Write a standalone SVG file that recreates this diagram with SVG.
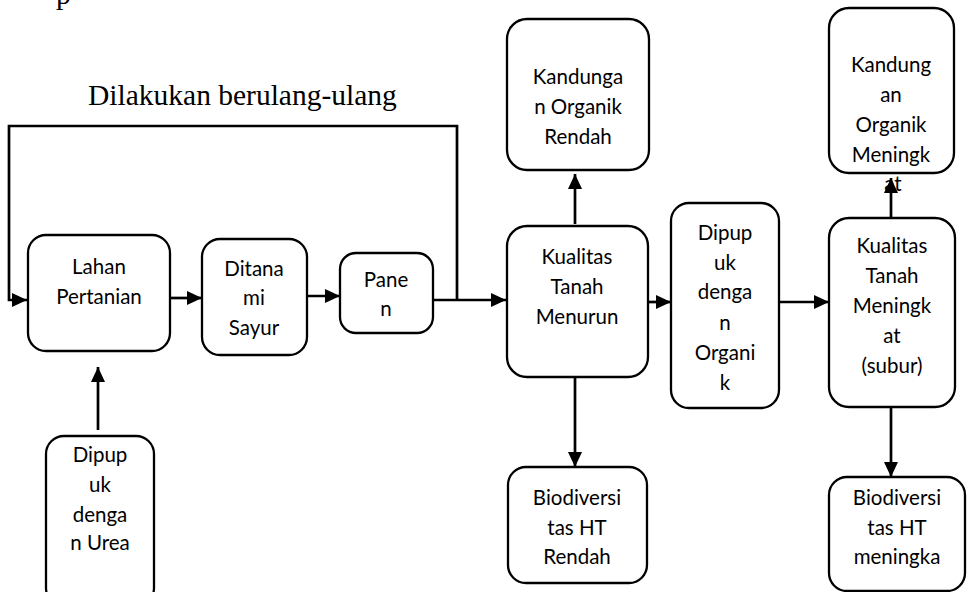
<svg xmlns="http://www.w3.org/2000/svg" width="967" height="592" viewBox="0 0 967 592">
<style>
.box{fill:#fff;stroke:#000;stroke-width:2.3}
.t{font-family:Lato,"Open Sans",sans-serif;font-size:20.5px;fill:#000;text-anchor:middle}
.s{font-family:"Liberation Serif","Times New Roman",serif;font-size:29.5px;fill:#000}
.c{fill:none;stroke:#000;stroke-width:2.7}
</style>
<defs>
<marker id="ah" markerUnits="userSpaceOnUse" markerWidth="16" markerHeight="14" refX="15" refY="7" orient="auto">
<path d="M0,0 L15,7 L0,14 Z" fill="#000"/>
</marker>
</defs>
<rect width="967" height="592" fill="#fff"/>
<text class="s" x="56" y="4">p</text>
<text class="s" x="88" y="105">Dilakukan berulang-ulang</text>
<g id="connectors">
<polyline class="c" points="457,300 457,126 9,126 9,300 27,300" marker-end="url(#ah)"/>
<line class="c" x1="170" y1="298" x2="202" y2="298" marker-end="url(#ah)"/>
<line class="c" x1="307" y1="296" x2="340" y2="296" marker-end="url(#ah)"/>
<line class="c" x1="433" y1="300" x2="506" y2="300" marker-end="url(#ah)"/>
<line class="c" x1="648" y1="302" x2="671" y2="302" marker-end="url(#ah)"/>
<line class="c" x1="779" y1="302" x2="829" y2="302" marker-end="url(#ah)"/>
<line class="c" x1="98" y1="430" x2="98" y2="367" marker-end="url(#ah)"/>
<line class="c" x1="575" y1="224" x2="575" y2="174" marker-end="url(#ah)"/>
<line class="c" x1="575" y1="378" x2="575" y2="467" marker-end="url(#ah)"/>
<line class="c" x1="891" y1="218" x2="891" y2="178" marker-end="url(#ah)"/>
<line class="c" x1="891" y1="408" x2="891" y2="477" marker-end="url(#ah)"/>
</g>
<g id="lahan">
<rect class="box" x="28" y="235" width="142" height="116" rx="18"/>
<text class="t" x="99" y="274">Lahan</text>
<text class="t" x="99" y="304">Pertanian</text>
</g>
<g id="ditanami">
<rect class="box" x="202" y="239" width="105" height="116" rx="18"/>
<text class="t" x="254" y="276">Ditana</text>
<text class="t" x="254" y="305">mi</text>
<text class="t" x="254" y="335">Sayur</text>
</g>
<g id="panen">
<rect class="box" x="340" y="253" width="93" height="80" rx="16"/>
<text class="t" x="386" y="287">Pane</text>
<text class="t" x="386" y="316">n</text>
</g>
<g id="kualitas-menurun">
<rect class="box" x="507" y="226" width="141" height="151" rx="20"/>
<text class="t" x="577" y="264">Kualitas</text>
<text class="t" x="577" y="294">Tanah</text>
<text class="t" x="577" y="324">Menurun</text>
</g>
<g id="dipupuk-organik">
<rect class="box" x="671" y="203" width="108" height="205" rx="18"/>
<text class="t" x="725" y="240">Dipup</text>
<text class="t" x="725" y="270">uk</text>
<text class="t" x="725" y="299">denga</text>
<text class="t" x="725" y="330">n</text>
<text class="t" x="725" y="360">Organi</text>
<text class="t" x="725" y="390">k</text>
</g>
<g id="kualitas-meningkat">
<rect class="box" x="829" y="218" width="126" height="189" rx="20"/>
<text class="t" x="892" y="253">Kualitas</text>
<text class="t" x="892" y="283">Tanah</text>
<text class="t" x="892" y="313">Meningk</text>
<text class="t" x="892" y="343">at</text>
<text class="t" x="892" y="373">(subur)</text>
</g>
<g id="kandungan-rendah">
<rect class="box" x="507" y="19" width="142" height="151" rx="20"/>
<text class="t" x="578" y="84">Kandunga</text>
<text class="t" x="578" y="114">n Organik</text>
<text class="t" x="578" y="144">Rendah</text>
</g>
<g id="kandungan-meningkat">
<rect class="box" x="829" y="8" width="125" height="165" rx="20"/>
<text class="t" x="891" y="72">Kandung</text>
<text class="t" x="891" y="102">an</text>
<text class="t" x="891" y="132">Organik</text>
<text class="t" x="891" y="162">Meningk</text>
<text class="t" x="893" y="191">at</text>
</g>
<g id="biodiversitas-rendah">
<rect class="box" x="508" y="467" width="139" height="116" rx="18"/>
<text class="t" x="577" y="505">Biodiversi</text>
<text class="t" x="577" y="535">tas HT</text>
<text class="t" x="577" y="564">Rendah</text>
</g>
<g id="biodiversitas-meningkat">
<rect class="box" x="829" y="477" width="136" height="114" rx="18"/>
<text class="t" x="897" y="505">Biodiversi</text>
<text class="t" x="897" y="535">tas HT</text>
<text class="t" x="897" y="564">meningka</text>
</g>
<g id="dipupuk-urea">
<rect class="box" x="46" y="436" width="108" height="170" rx="18"/>
<text class="t" x="100" y="462">Dipup</text>
<text class="t" x="100" y="492">uk</text>
<text class="t" x="100" y="522">denga</text>
<text class="t" x="100" y="550">n Urea</text>
</g>
</svg>
